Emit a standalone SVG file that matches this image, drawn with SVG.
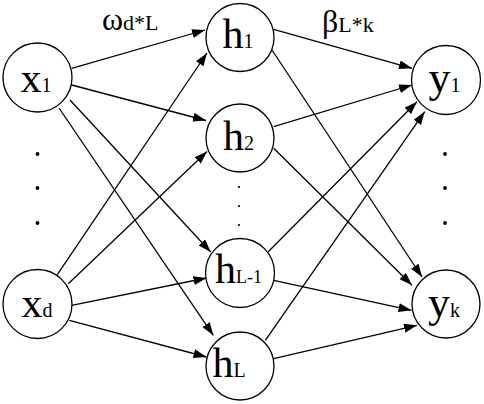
<svg xmlns="http://www.w3.org/2000/svg" width="484" height="404" viewBox="0 0 484 404">
<style>
.n{fill:#fff;stroke:#000;stroke-width:1.3}
.e{stroke:#000;stroke-width:1.3;fill:none;marker-end:url(#ah)}
text{font-family:"Liberation Serif","Times New Roman",serif;fill:#000}
.lb{text-anchor:middle}
.m{font-size:42px}
.s{font-size:20px}
.dot{fill:#000}
</style>
<defs>
<marker id="ah" markerUnits="userSpaceOnUse" markerWidth="14" markerHeight="10" refX="13" refY="4.5" orient="auto">
<path d="M0,0 L13,4.5 L0,9 z" fill="#000"/>
</marker>
</defs>
<rect width="484" height="404" fill="#fff"/>
<g id="connectors">
<line class="e" x1="71.7" y1="68.3" x2="205" y2="30"/>
<line class="e" x1="71.7" y1="85" x2="206" y2="120.5"/>
<line class="e" x1="70" y1="100" x2="210.7" y2="252"/>
<line class="e" x1="59" y1="108" x2="213.3" y2="335.3"/>
<line class="e" x1="57.3" y1="274.7" x2="207" y2="53"/>
<line class="e" x1="68.3" y1="283.7" x2="207" y2="151.5"/>
<line class="e" x1="71.7" y1="305.3" x2="206.5" y2="278"/>
<line class="e" x1="69.3" y1="320.3" x2="206.5" y2="357"/>
<line class="e" x1="273.7" y1="29.3" x2="412" y2="68.3"/>
<line class="e" x1="272" y1="50" x2="422" y2="277"/>
<line class="e" x1="273.7" y1="126.7" x2="412" y2="85"/>
<line class="e" x1="273.7" y1="148.3" x2="412" y2="285.3"/>
<line class="e" x1="268" y1="252" x2="417" y2="101.7"/>
<line class="e" x1="273.7" y1="280.3" x2="411.5" y2="310.3"/>
<line class="e" x1="265.3" y1="340.3" x2="424.7" y2="111.7"/>
<line class="e" x1="273.7" y1="358.7" x2="417" y2="325.3"/>
</g>
<g id="label-w"><text x="102" y="30"><tspan font-size="32">ω</tspan><tspan font-size="22">d*L</tspan></text></g>
<g id="label-b"><text x="322" y="32"><tspan font-size="32">β</tspan><tspan font-size="22">L*k</tspan></text></g>
<g id="x1"><circle class="n" cx="37.5" cy="77.5" r="34.5"/><text class="lb" x="36" y="92"><tspan class="m">x</tspan><tspan class="s">1</tspan></text></g>
<g id="xd"><circle class="n" cx="37.5" cy="304" r="34.5"/><text class="lb" x="37" y="317"><tspan class="m">x</tspan><tspan class="s">d</tspan></text></g>
<g id="h1"><circle class="n" cx="240" cy="37.5" r="34"/><text class="lb" x="238" y="48"><tspan class="m">h</tspan><tspan class="s">1</tspan></text></g>
<g id="h2"><circle class="n" cx="240" cy="138" r="34"/><text class="lb" x="238.5" y="150"><tspan class="m">h</tspan><tspan class="s">2</tspan></text></g>
<g id="hL-1"><circle class="n" cx="240" cy="273" r="34.5"/><text class="lb" x="238.5" y="283"><tspan class="m">h</tspan><tspan font-size="18">L-1</tspan></text></g>
<g id="hL"><circle class="n" cx="240" cy="366" r="34"/><text class="lb" x="229" y="377"><tspan class="m">h</tspan><tspan class="s">L</tspan></text></g>
<g id="y1"><circle class="n" cx="446" cy="80" r="34.5"/><text class="lb" x="444.5" y="92"><tspan font-size="44">y</tspan><tspan class="s">1</tspan></text></g>
<g id="yk"><circle class="n" cx="446" cy="304" r="34"/><text class="lb" x="444" y="317"><tspan font-size="44">y</tspan><tspan class="s">k</tspan></text></g>
<g id="dots">
<circle class="dot" cx="37.5" cy="154" r="1.9"/>
<circle class="dot" cx="37.5" cy="188" r="1.9"/>
<circle class="dot" cx="37.5" cy="223" r="1.9"/>
<circle class="dot" cx="445" cy="154" r="1.9"/>
<circle class="dot" cx="445" cy="188" r="1.9"/>
<circle class="dot" cx="445" cy="223" r="1.9"/>
<circle class="dot" cx="239" cy="187" r="1.1"/>
<circle class="dot" cx="239" cy="206" r="1.1"/>
<circle class="dot" cx="239" cy="225" r="1.1"/>
</g>
</svg>
